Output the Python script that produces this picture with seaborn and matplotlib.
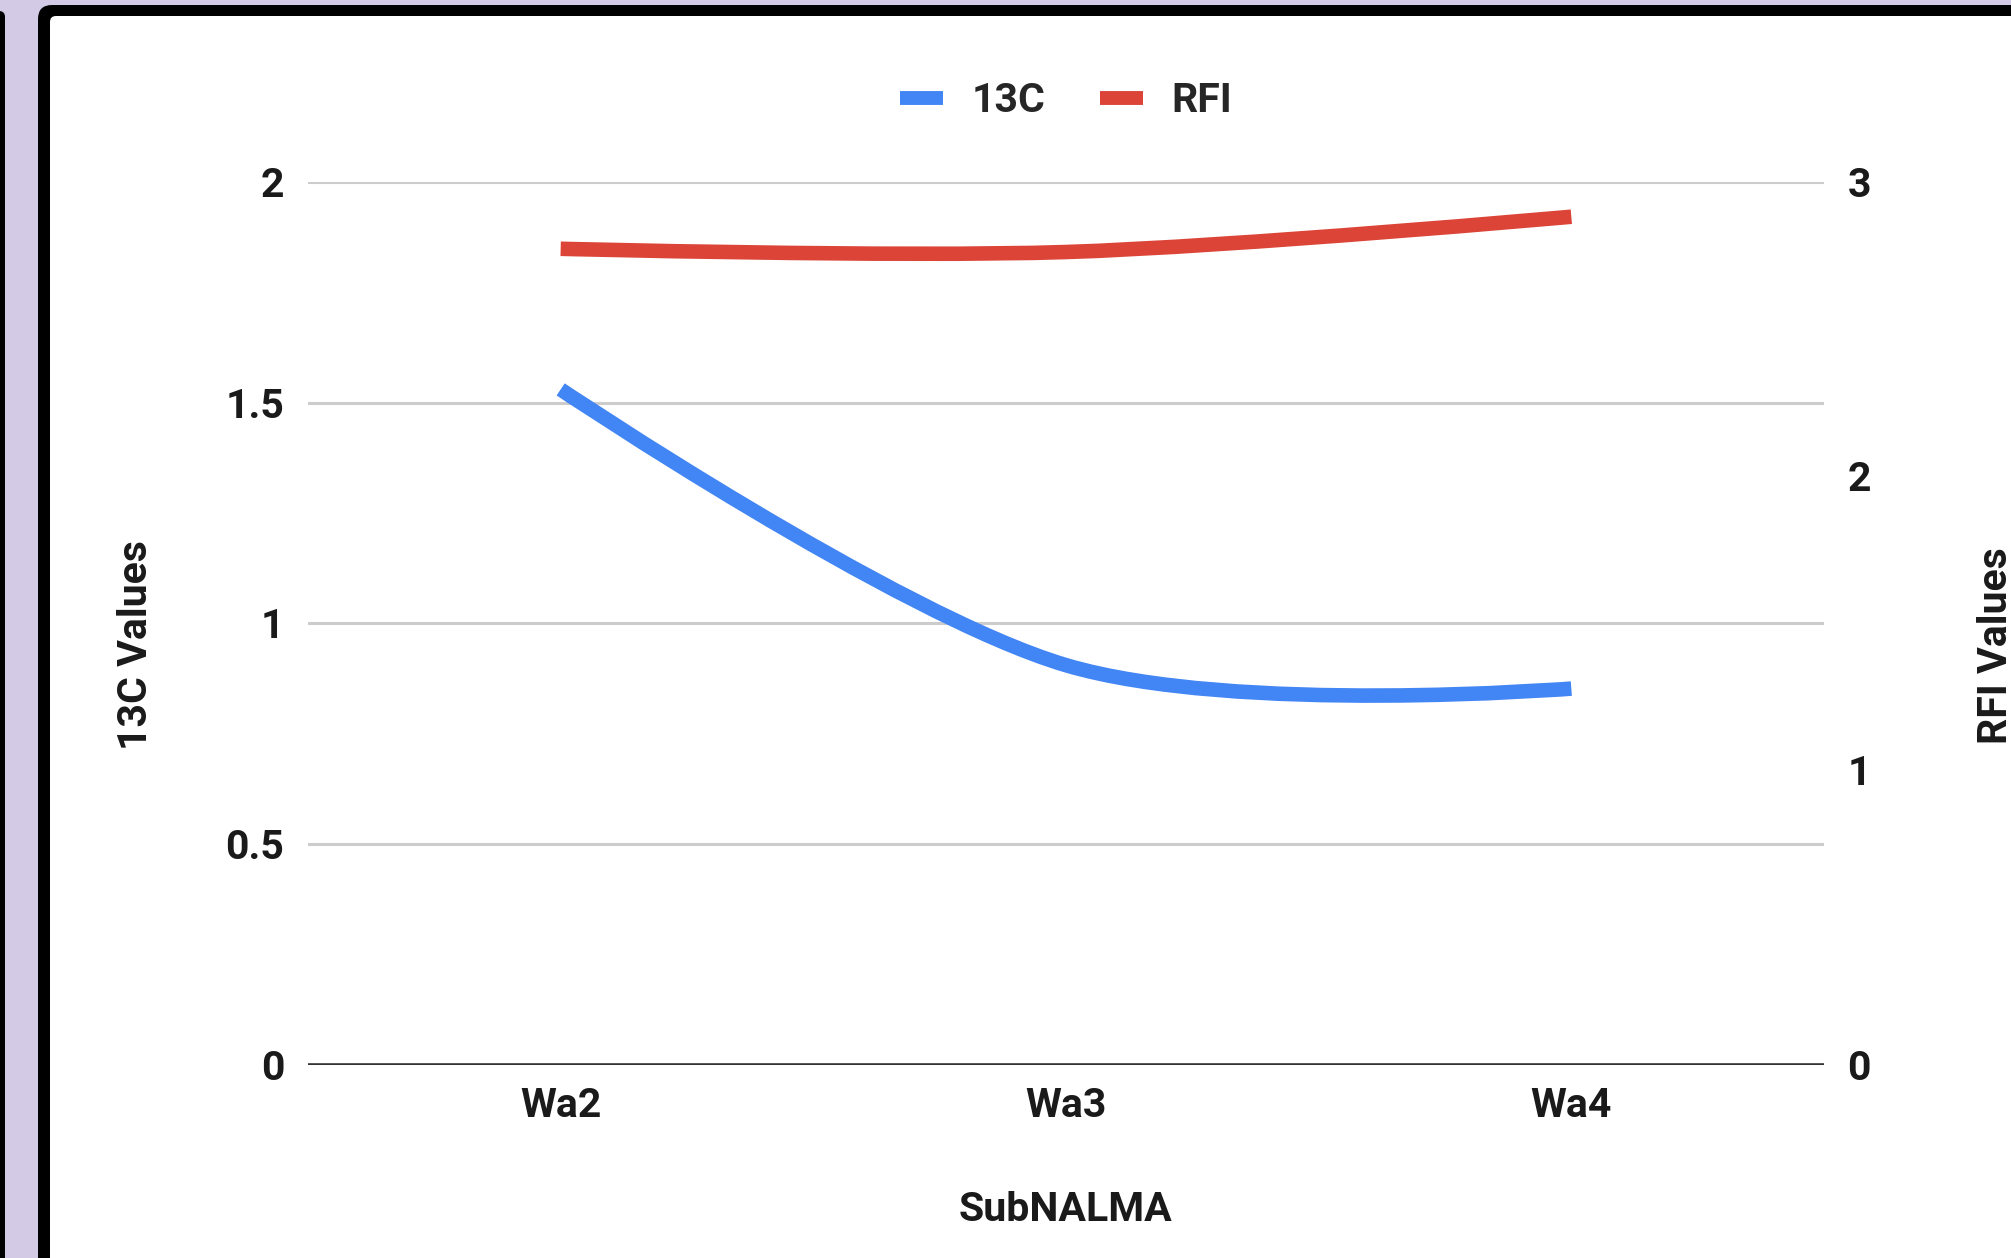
import matplotlib
matplotlib.use("Agg")
import matplotlib.pyplot as plt
import seaborn as sns
from matplotlib.path import Path
from matplotlib.patches import PathPatch, FancyBboxPatch
from matplotlib.lines import Line2D

# ---------------- data ----------------
categories = ["Wa2", "Wa3", "Wa4"]
c13_values = [1.53, 0.905, 0.852]
rfi_values = [2.773, 2.762, 2.882]
left_ticks = [0, 0.5, 1, 1.5, 2]
left_tick_labels = ["0", "0.5", "1", "1.5", "2"]
right_ticks = [0, 1, 2, 3]
right_tick_labels = ["0", "1", "2", "3"]

BLUE = "#4285F4"
RED = "#DB4437"
LAVENDER = "#d3cbe5"

sns.set_theme(style="white")
plt.rcParams["font.family"] = ["Roboto", "DejaVu Sans"]

W, H, DPI = 2011, 1258, 100
fig = plt.figure(figsize=(W / DPI, H / DPI), dpi=DPI)
fig.patch.set_facecolor(LAVENDER)

def px(x, y):
    # pixel (from top-left) -> inches (from bottom-left)
    return x / DPI, (H - y) / DPI

# frame: left black strip, inner black border, white panel
t = fig.dpi_scale_trans
x0, y0 = px(0, H + 50)
fig.add_artist(FancyBboxPatch((x0 - 0.3, y0), 0.11 + 0.3 - 0.06, (H + 50 - 5) / DPI - 0.06,
                              boxstyle="round,pad=0,rounding_size=0.06",
                              transform=t, facecolor="black", edgecolor="none", zorder=-10))
x0, y0 = px(38, H + 50)
fig.add_artist(FancyBboxPatch((x0, y0), (W + 50 - 38) / DPI, (H + 50 - 5) / DPI,
                              boxstyle="round,pad=0,rounding_size=0.14",
                              transform=t, facecolor="black", edgecolor="none", zorder=-9))
x0, y0 = px(50, H + 50)
fig.add_artist(FancyBboxPatch((x0, y0), (W + 50 - 50) / DPI, (H + 50 - 16) / DPI,
                              boxstyle="round,pad=0,rounding_size=0.06",
                              transform=t, facecolor="white", edgecolor="none", zorder=-8))

# axes
L, R = 308 / W, 1824 / W
B, T = 1 - 1064.5 / H, 1 - 182 / H
ax = fig.add_axes([L, B, R - L, T - B])
ax.set_facecolor("none")
ax2 = ax.twinx()
ax2.set_facecolor("none")

xs = list(range(len(categories)))

def smooth_path(xv, yv, k=1 / 6):
    verts = [(xv[0], yv[0])]
    codes = [Path.MOVETO]
    n = len(xv)
    for i in range(n - 1):
        if i == 0:
            c1 = (xv[0], yv[0])
        else:
            c1 = (xv[i] + (xv[i + 1] - xv[i - 1]) * k, yv[i] + (yv[i + 1] - yv[i - 1]) * k)
        if i + 1 == n - 1:
            c2 = (xv[i + 1], yv[i + 1])
        else:
            c2 = (xv[i + 1] - (xv[i + 2] - xv[i]) * k, yv[i + 1] - (yv[i + 2] - yv[i]) * k)
        verts += [c1, c2, (xv[i + 1], yv[i + 1])]
        codes += [Path.CURVE4] * 3
    return Path(verts, codes)

LW = 10.5
ax.add_patch(PathPatch(smooth_path(xs, c13_values), facecolor="none", edgecolor=BLUE,
                       lw=LW, capstyle="butt", joinstyle="round", zorder=3))
ax2.add_patch(PathPatch(smooth_path(xs, rfi_values), facecolor="none", edgecolor=RED,
                        lw=LW, capstyle="butt", joinstyle="round", zorder=3))

ax.set_xlim(-0.5, len(categories) - 0.5)
ax.set_ylim(0, 2)
ax2.set_ylim(0, 3)

FS = 29.5
FW = "bold"
TC = "#1a1a1a"
ax.set_xticks(xs)
ax.set_xticklabels(categories, fontsize=FS, fontweight=FW, color=TC)
ax.set_yticks(left_ticks)
ax.set_yticklabels(left_tick_labels, fontsize=FS, fontweight=FW, color=TC)
ax2.set_yticks(right_ticks)
ax2.set_yticklabels(right_tick_labels, fontsize=FS, fontweight=FW, color=TC)
ax.tick_params(axis="both", length=0)
ax.tick_params(axis="y", pad=17)
ax.tick_params(axis="x", pad=16)
ax2.tick_params(axis="y", length=0, pad=17)

ax.grid(axis="y", color="#cccccc", linewidth=2.2)
ax.grid(axis="x", visible=False)
ax2.grid(False)
for a in (ax, ax2):
    for s in a.spines.values():
        s.set_visible(False)
ax.axhline(0, color="#333333", linewidth=2.6, zorder=2)

ax.set_ylabel("13C Values", fontsize=FS, fontweight=FW, color=TC)
ax.yaxis.set_label_coords(-0.101, 0.475)
ax2.set_ylabel("RFI Values", fontsize=FS, fontweight=FW, color=TC, rotation=90)
ax2.yaxis.set_label_coords(1.101, 0.475)
ax.set_xlabel("SubNALMA", fontsize=FS, fontweight=FW, color=TC)
ax.xaxis.set_label_coords(0.5, -0.143)

handles = [Line2D([0], [0], color=BLUE, lw=10, solid_capstyle="butt"),
           Line2D([0], [0], color=RED, lw=10, solid_capstyle="butt")]
fig.legend(handles, ["13C", "RFI"], loc="center", bbox_to_anchor=(0.53, 1 - 101 / H),
           ncol=2, frameon=False, prop={"size": FS, "weight": FW},
           handlelength=1.05, handletextpad=0.69, columnspacing=1.33)

fig.savefig("out.png", dpi=DPI, facecolor=fig.get_facecolor())
